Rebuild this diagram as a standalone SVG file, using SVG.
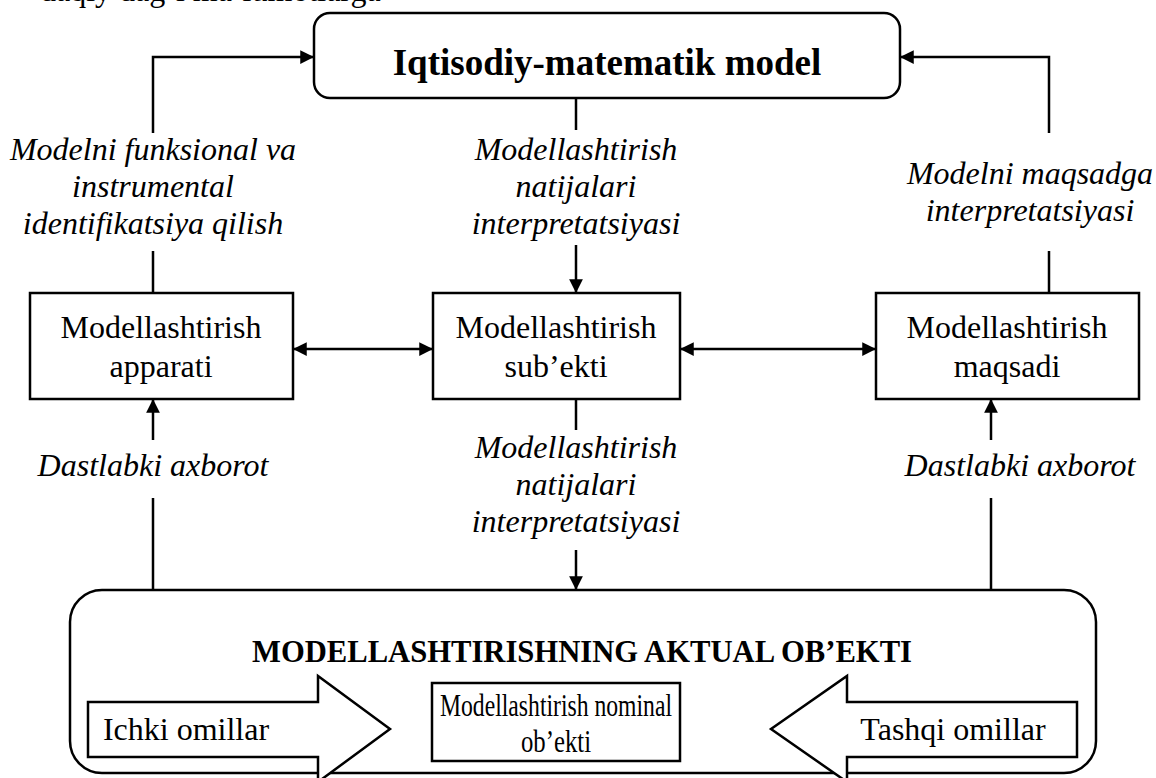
<svg xmlns="http://www.w3.org/2000/svg" width="1156" height="778" viewBox="0 0 1156 778">
  <style>
    .box { fill: #fff; stroke: #000; stroke-width: 2.5; }
    .ln { fill: none; stroke: #000; stroke-width: 2.5; }
    .t { font-family: "Liberation Serif", "Times New Roman", serif; font-size: 32px; fill: #000; text-anchor: middle; }
    .it { font-style: italic; }
    .b { font-weight: bold; }
  </style>
  <defs>
    <marker id="ah" viewBox="0 0 10 10" refX="10" refY="5" markerWidth="5.5" markerHeight="5.5" orient="auto-start-reverse" markerUnits="strokeWidth">
      <path d="M0,0 L10,5 L0,10 Z" fill="#000"/>
    </marker>
  </defs>
  <rect width="1156" height="778" fill="#fff"/>

  <!-- preceding paragraph line, clipped by the top edge -->
  <text class="t" x="40" y="1" style="text-anchor:start">daqiy dag‘i ma’lumotlarga</text>

  <!-- connectors -->
  <g id="connectors">
    <polyline class="ln" points="153,293 153,57 314,57" marker-end="url(#ah)"/>
    <polyline class="ln" points="1049,293 1049,57 900,57" marker-end="url(#ah)"/>
    <line class="ln" x1="576" y1="98" x2="576" y2="293" marker-end="url(#ah)"/>
    <line class="ln" x1="293" y1="349" x2="433" y2="349" marker-start="url(#ah)" marker-end="url(#ah)"/>
    <line class="ln" x1="680" y1="349" x2="876" y2="349" marker-start="url(#ah)" marker-end="url(#ah)"/>
    <line class="ln" x1="153" y1="590" x2="153" y2="399" marker-end="url(#ah)"/>
    <line class="ln" x1="991" y1="590" x2="991" y2="399" marker-end="url(#ah)"/>
    <line class="ln" x1="576" y1="399" x2="576" y2="590" marker-end="url(#ah)"/>
  </g>

  <!-- connector labels (white backing breaks the lines) -->
  <g id="labels">
    <rect x="0" y="133" width="310" height="118" fill="#fff"/>
    <text class="t it" x="153" y="160">Modelni funksional va</text>
    <text class="t it" x="153" y="197">instrumental</text>
    <text class="t it" x="153" y="234">identifikatsiya qilish</text>

    <rect x="460" y="130" width="232" height="115" fill="#fff"/>
    <text class="t it" x="576" y="160">Modellashtirish</text>
    <text class="t it" x="576" y="197">natijalari</text>
    <text class="t it" x="576" y="234">interpretatsiyasi</text>

    <rect x="900" y="133" width="256" height="118" fill="#fff"/>
    <text class="t it" x="1030" y="184">Modelni maqsadga</text>
    <text class="t it" x="1030" y="221">interpretatsiyasi</text>

    <rect x="0" y="440" width="310" height="58" fill="#fff"/>
    <text class="t it" x="153" y="476">Dastlabki axborot</text>

    <rect x="870" y="440" width="286" height="58" fill="#fff"/>
    <text class="t it" x="1020" y="476">Dastlabki axborot</text>

    <rect x="460" y="430" width="232" height="120" fill="#fff"/>
    <text class="t it" x="576" y="458">Modellashtirish</text>
    <text class="t it" x="576" y="495">natijalari</text>
    <text class="t it" x="576" y="532">interpretatsiyasi</text>
  </g>

  <g id="model">
    <rect class="box" x="314" y="13" width="586" height="85" rx="16"/>
    <text class="t b" x="607" y="75" style="font-size:37px">Iqtisodiy-matematik model</text>
  </g>

  <g id="apparat">
    <rect class="box" x="30" y="293" width="263" height="106"/>
    <text class="t" x="161" y="338">Modellashtirish</text>
    <text class="t" x="161" y="377">apparati</text>
  </g>

  <g id="subyekt">
    <rect class="box" x="433" y="293" width="247" height="106"/>
    <text class="t" x="556" y="338">Modellashtirish</text>
    <text class="t" x="556" y="377">sub’ekti</text>
  </g>

  <g id="maqsad">
    <rect class="box" x="876" y="293" width="263" height="106"/>
    <text class="t" x="1007" y="338">Modellashtirish</text>
    <text class="t" x="1007" y="377">maqsadi</text>
  </g>

  <g id="aktual">
    <rect class="box" x="70" y="590" width="1026" height="183" rx="32"/>
    <text class="t b" x="582" y="662" style="font-size:31px" textLength="660" lengthAdjust="spacingAndGlyphs">MODELLASHTIRISHNING AKTUAL OB’EKTI</text>
  </g>

  <g id="ichki">
    <polygon class="box" points="88,702 318,702 318,676 390,729 318,782 318,757 88,757"/>
    <text class="t" x="186" y="740">Ichki omillar</text>
  </g>

  <g id="nominal">
    <rect class="box" x="432" y="683" width="248" height="78"/>
    <text class="t" x="556" y="716" textLength="232" lengthAdjust="spacingAndGlyphs">Modellashtirish nominal</text>
    <text class="t" x="556" y="752" textLength="70" lengthAdjust="spacingAndGlyphs">ob’ekti</text>
  </g>

  <g id="tashqi">
    <polygon class="box" points="1077,702 847,702 847,676 771,729 847,782 847,757 1077,757"/>
    <text class="t" x="953" y="740">Tashqi omillar</text>
  </g>
</svg>
